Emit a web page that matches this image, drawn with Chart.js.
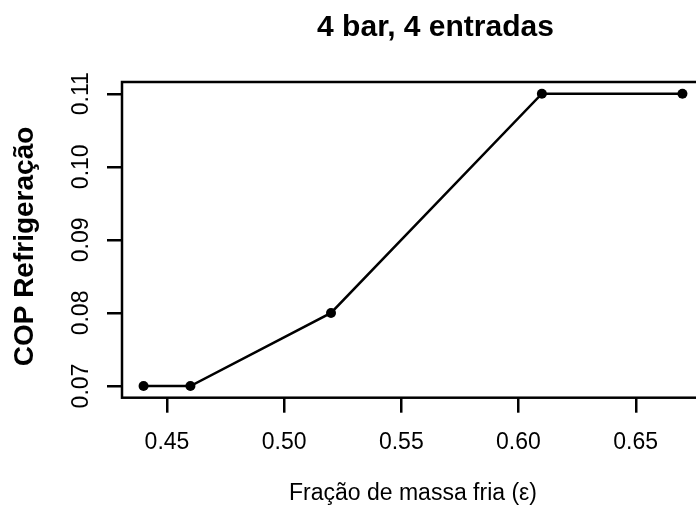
<!DOCTYPE html>
<html>
<head>
<meta charset="utf-8">
<script src="https://cdn.jsdelivr.net/npm/chart.js@4"></script>
<style>
  html, body { margin: 0; padding: 0; background: #fff; overflow: hidden; }
  #wrap { width: 696px; height: 511px; overflow: hidden; }
</style>
</head>
<body>
<div id="wrap"><canvas id="myChart" width="720" height="511"></canvas></div>
<script>
const fracao = [0.44, 0.46, 0.52, 0.61, 0.67];
const cop = [0.07, 0.07, 0.08, 0.11, 0.11];
const xTicks = [0.45, 0.50, 0.55, 0.60, 0.65];
const yTicks = [0.07, 0.08, 0.09, 0.10, 0.11];
const titulo = '4 bar, 4 entradas';
const tituloX = 'Fração de massa fria (ε)';
const tituloY = 'COP Refrigeração';

const FONT = "'Liberation Sans', Arial, sans-serif";
const TICK = 15;

// R-style limits: data range stretched 4% on each side
function pad4(arr) {
    const lo = Math.min(...arr), hi = Math.max(...arr);
    const d = (hi - lo) * 0.04;
    return [lo - d, hi + d];
}
const [xMin, xMax] = pad4(fracao);
const [yMin, yMax] = pad4(cop);

// box, tick marks, main title, rotated y labels
const rBase = {
    id: 'rBase',
    afterDraw(chart) {
        const c = chart.ctx;
        const a = chart.chartArea;
        const xs = chart.scales.x;
        const ys = chart.scales.y;
        c.save();
        c.fillStyle = '#000';
        xTicks.forEach(v => {
            const px = Math.round(xs.getPixelForValue(v));
            c.fillRect(px - 1, a.bottom, 2.5, TICK);
        });
        yTicks.forEach(v => {
            const py = Math.round(ys.getPixelForValue(v));
            c.fillRect(a.left - TICK, py - 1, TICK, 2.5);
        });

        c.strokeStyle = '#000';
        c.lineWidth = 2.5;
        c.strokeRect(a.left, a.top, a.right - a.left, a.bottom - a.top);

        c.font = 'bold 30px ' + FONT;
        c.textAlign = 'center';
        c.textBaseline = 'alphabetic';
        c.fillText(titulo, 435.5, 36);

        c.font = '23px ' + FONT;
        yTicks.forEach(v => {
            const py = ys.getPixelForValue(v);
            c.save();
            c.translate(88, py);
            c.rotate(-Math.PI / 2);
            c.fillText(v.toFixed(2), 0, 0);
            c.restore();
        });

        c.font = 'bold 28px ' + FONT;
        c.save();
        c.translate(33, 246.5);
        c.rotate(-Math.PI / 2);
        c.fillText(tituloY, 0, 0);
        c.restore();
        c.restore();
    }
};

const ctx = document.getElementById('myChart').getContext('2d');
const myChart = new Chart(ctx, {
    type: 'line',
    data: {
        datasets: [{
            data: fracao.map((x, i) => ({ x: x, y: cop[i] })),
            borderColor: '#000',
            backgroundColor: '#000',
            borderWidth: 2.5,
            pointRadius: 5,
            pointBackgroundColor: '#000',
            pointBorderWidth: 0,
            tension: 0,
            fill: false
        }]
    },
    options: {
        responsive: false,
        animation: false,
        devicePixelRatio: 1,
        layout: { padding: { left: 0, right: 16, top: 82, bottom: 0 } },
        plugins: {
            legend: { display: false },
            tooltip: { enabled: false },
            title: { display: false }
        },
        scales: {
            x: {
                type: 'linear',
                min: xMin,
                max: xMax,
                afterBuildTicks: s => { s.ticks = xTicks.map(v => ({ value: v })); },
                afterFit: s => { s.height = 113.3; },
                grid: { display: false, drawTicks: true, tickLength: TICK },
                border: { display: false },
                ticks: {
                    color: '#000',
                    font: { family: FONT, size: 23 },
                    padding: 16,
                    maxRotation: 0,
                    autoSkip: false,
                    callback: v => v.toFixed(2)
                },
                title: {
                    display: true,
                    text: tituloX,
                    color: '#000',
                    font: { family: FONT, size: 23 },
                    padding: { top: 4, bottom: 4 }
                }
            },
            y: {
                type: 'linear',
                min: yMin,
                max: yMax,
                afterBuildTicks: s => { s.ticks = yTicks.map(v => ({ value: v })); },
                afterFit: s => { s.width = 122; },
                grid: { display: false },
                border: { display: false },
                ticks: { display: false }
            }
        }
    },
    plugins: [rBase]
});
</script>
</body>
</html>
